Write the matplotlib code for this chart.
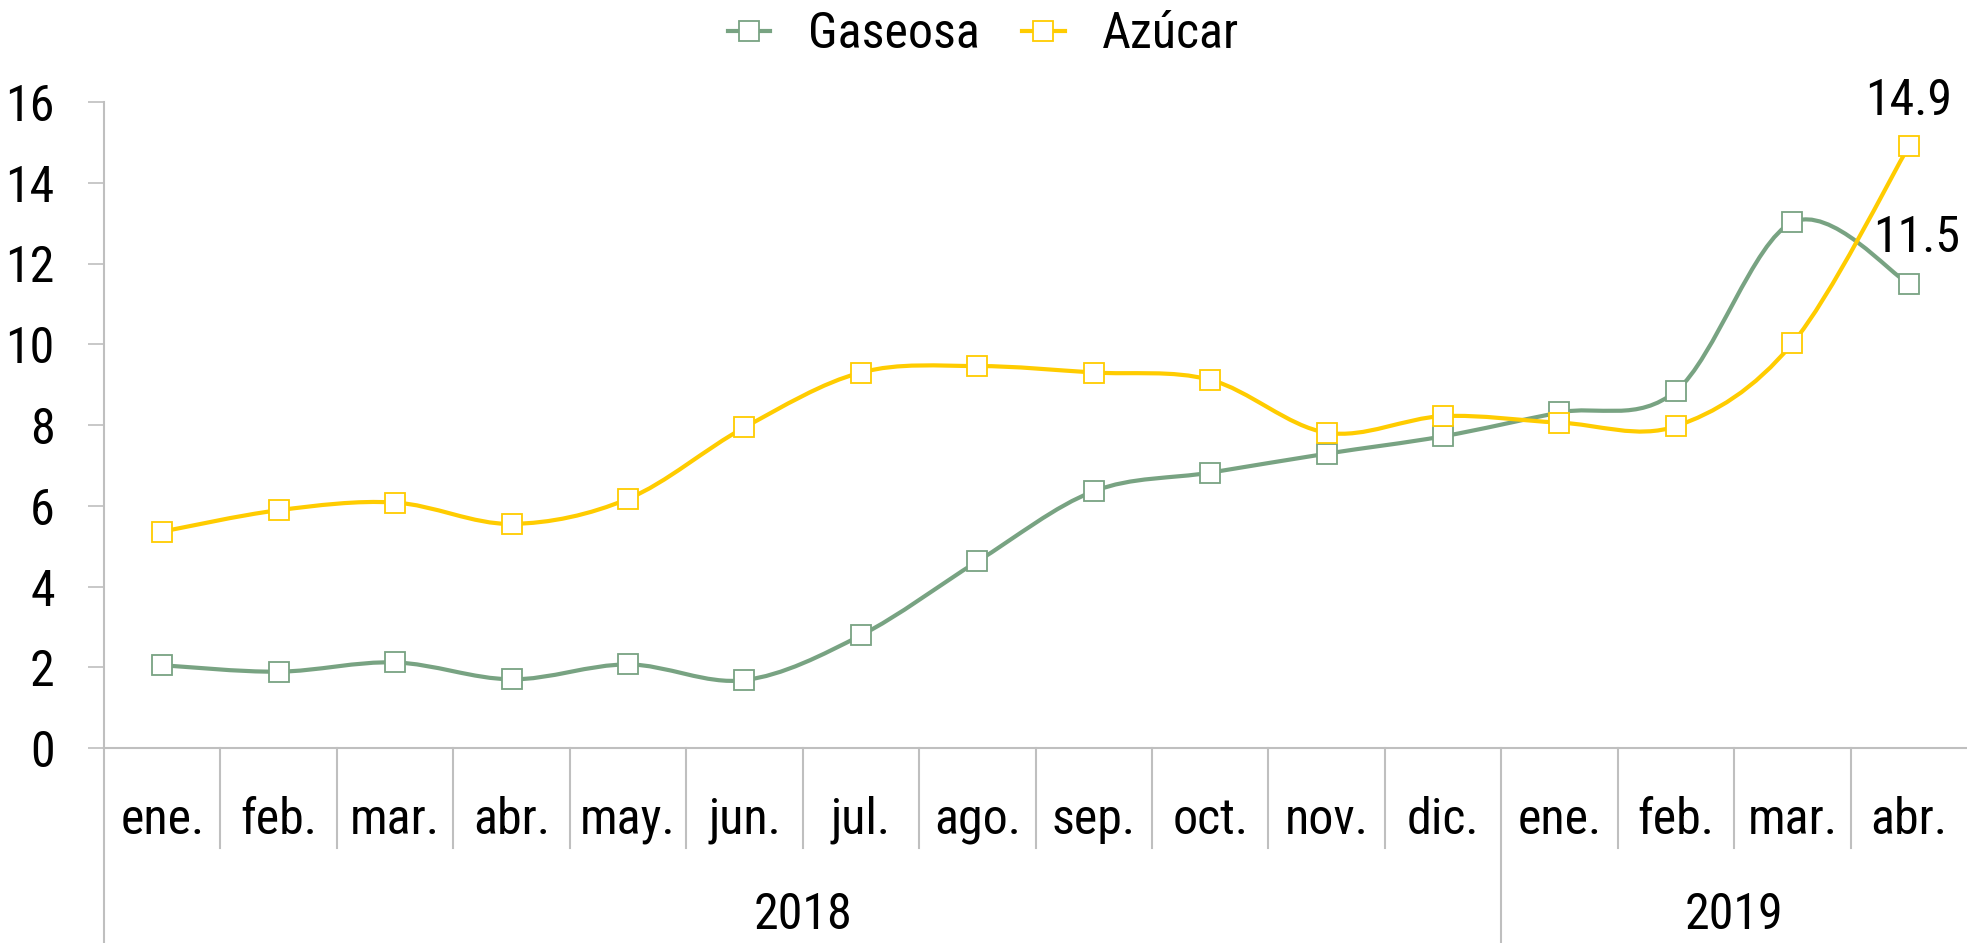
import matplotlib
matplotlib.use("Agg")
import matplotlib.pyplot as plt
from matplotlib.path import Path
from matplotlib.patches import PathPatch
from matplotlib.lines import Line2D
import numpy as np

plt.rcParams['font.family'] = ['Roboto Condensed', 'Liberation Sans', 'DejaVu Sans']

months = ["ene.", "feb.", "mar.", "abr.", "may.", "jun.", "jul.", "ago.",
          "sep.", "oct.", "nov.", "dic.", "ene.", "feb.", "mar.", "abr."]
years = ["2018", "2019"]
year_counts = [12, 4]
gaseosa = [2.05, 1.89, 2.12, 1.70, 2.07, 1.68, 2.79, 4.62, 6.36, 6.82, 7.29, 7.72, 8.31, 8.84, 13.02, 11.5]
azucar = [5.36, 5.89, 6.08, 5.55, 6.17, 7.94, 9.30, 9.46, 9.30, 9.12, 7.81, 8.22, 8.06, 7.97, 10.02, 14.9]
series_names = ["Gaseosa", "Azúcar"]
colors = ["#78A382", "#FFCC00"]
yticks = [0, 2, 4, 6, 8, 10, 12, 14, 16]

W, H = 1967, 943
fig = plt.figure(figsize=(W / 100, H / 100), dpi=100)
left, right = 104 / W, 1.0
bottom, top = 1 - 748 / H, 1 - 102 / H
ax = fig.add_axes([left, bottom, right - left, top - bottom])

n = len(months)
x = np.arange(n)
ax.set_xlim(-0.5, n - 0.5)
ax.set_ylim(0, 16)

grey = "#BFBFBF"
FS = 36
LW = 3.0
MS = 14
MEW = 1.3


def smooth_path(xs, ys):
    pts = np.column_stack([xs, ys]).astype(float)
    m = len(pts)
    verts = [pts[0]]
    codes = [Path.MOVETO]
    for i in range(m - 1):
        p0 = pts[i - 1] if i > 0 else pts[i]
        p1 = pts[i]
        p2 = pts[i + 1]
        p3 = pts[i + 2] if i + 2 < m else pts[i + 1]
        c1 = p1 + (p2 - p0) / 6.0
        c2 = p2 - (p3 - p1) / 6.0
        verts += [c1, c2, p2]
        codes += [Path.CURVE4] * 3
    return Path(verts, codes)


handles = []
for vals, name, col in zip([gaseosa, azucar], series_names, colors):
    patch = PathPatch(smooth_path(x, vals), facecolor="none", edgecolor=col,
                      lw=LW, zorder=3, capstyle="round", joinstyle="round")
    ax.add_patch(patch)
    ax.plot(x, vals, linestyle="none", marker="s", markersize=MS,
            markerfacecolor="white", markeredgecolor=col, markeredgewidth=MEW, zorder=4)
    handles.append(Line2D([0], [0], color=col, lw=LW, marker="s", markersize=MS,
                          markerfacecolor="white", markeredgecolor=col, markeredgewidth=MEW))

# data labels for last points
ax.annotate(f"{azucar[-1]:.1f}", (x[-1], azucar[-1]), xytext=(0, 33), textcoords="offset points",
            ha="center", va="center", fontsize=FS, zorder=5)
ax.annotate(f"{gaseosa[-1]:.1f}", (x[-1], gaseosa[-1]), xytext=(6, 33), textcoords="offset points",
            ha="center", va="center", fontsize=FS, zorder=5)

# axes styling
for s in ["top", "right", "left"]:
    ax.spines[s].set_visible(False)
ax.spines["bottom"].set_color(grey)
ax.spines["bottom"].set_linewidth(1.5)
ax.set_yticks(yticks)
ax.set_yticklabels([str(v) for v in yticks], fontsize=FS)
ax.tick_params(axis="y", length=11.5, width=1.2, color=grey, pad=24)
ax.set_xticks([])

tr = ax.get_xaxis_transform()
ah = 748 - 102
y_short = -(848 - 748) / ah
y_bottom = -(H - 748) / ah
# left axis line extended to bottom
ax.add_line(Line2D([-0.5, -0.5], [1, y_bottom], transform=tr, color=grey, lw=1.5, clip_on=False))
# category separators
cum = np.cumsum(year_counts)
for b in range(1, n):
    yb = y_bottom if b in cum else y_short
    ax.add_line(Line2D([b - 0.5, b - 0.5], [0, yb], transform=tr, color=grey, lw=1.5, clip_on=False))

# month labels
y_month = -(820 - 748) / ah
for i, mth in enumerate(months):
    ax.text(i, y_month, mth, transform=tr, ha="center", va="center", fontsize=FS)

# year labels
y_year = -(915 - 748) / ah
start = 0
for yr, c in zip(years, year_counts):
    ax.text(start + (c - 1) / 2, y_year, yr, transform=tr, ha="center", va="center", fontsize=FS)
    start += c

fig.legend(handles, series_names, loc="center", bbox_to_anchor=(0.5, 1 - 34 / H), ncol=2,
           frameon=False, fontsize=FS, handlelength=0.85, handletextpad=0.75, columnspacing=0.85)

fig.savefig("out.png", dpi=100)
